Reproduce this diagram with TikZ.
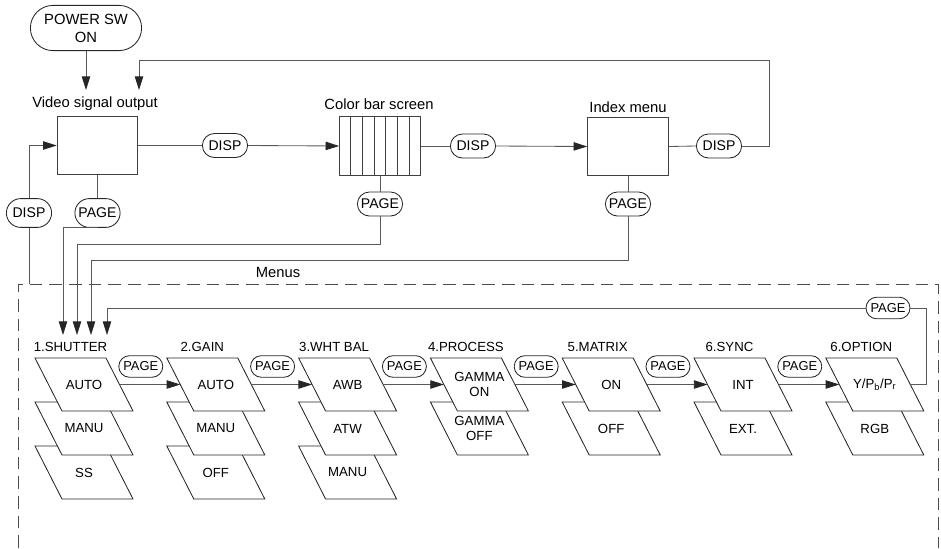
\documentclass[tikz,border=0pt]{standalone}
\usepackage{fontspec}
\setmainfont{Liberation Sans}
\usetikzlibrary{arrows.meta,positioning,shapes.misc,calc}

\tikzset{
  screen/.style={draw=black!75, line width=0.6pt, minimum width=2.02cm, minimum height=1.47cm, inner sep=0pt},
  keypill/.style={draw=black!85, line width=0.6pt, rounded rectangle, minimum width=1.2cm, minimum height=0.6cm, inner sep=1pt, font=\fontsize{10}{11}\selectfont},
  keysmall/.style={keypill, minimum width=1.17cm, minimum height=0.54cm, font=\fontsize{9.2}{11}\selectfont},
  choiceline/.style={draw=black!85, fill=white, line width=0.6pt},
  choicetext/.style={inner sep=0pt, align=center, font=\fontsize{9.4}{11}\selectfont},
  heading/.style={font=\fontsize{10.5}{12}\selectfont, inner sep=1pt},
  menutitle/.style={font=\fontsize{9.4}{11}\selectfont, inner sep=1pt},
  wire/.style={draw=black!65, line width=0.6pt},
  flow/.style={wire, -{Triangle[length=3.4mm,width=2.1mm,color=black!85]}},
  pics/choice/.style={code={
    \draw[choiceline] (-49,-26.5) -- (22,-26.5) -- (49,26.5) -- (-22,26.5) -- cycle;
    \node[choicetext] (-t) at (0,0) {#1};
    \coordinate (-l) at (-35.5,0);
    \coordinate (-r) at (35.5,0);
  }},
}

\begin{document}
\begin{tikzpicture}[x=0.025cm, y=-0.025cm]
  \useasboundingbox (0,0) rectangle (941,548);

  % Power and screens
  \node[keypill, minimum width=2.85cm, minimum height=1.13cm, align=center, font=\fontsize{10.5}{12.8}\selectfont] (power) at (86,28) {POWER SW\\ON};
  \node[screen] (vid) at (97.5,145.5) {};
  \node[heading] (vidt) at (95,104) {Video signal output};
  \node[screen] (bar) at (380,146) {};
  \node[heading] (bart) at (379,104) {Color bar screen};
  \node[screen] (idx) at (628,146.5) {};
  \node[heading] (idxt) at (628,107) {Index menu};
  \foreach \k in {1,...,6}
    \draw[draw=black!75, line width=0.6pt] ($(bar.north west)!\k/7!(bar.north east)$) -- ($(bar.south west)!\k/7!(bar.south east)$);

  % Keys round the screens
  \node[keypill] (disp1) at (225,145.5) {DISP};
  \node[keypill] (disp2) at (473,146) {DISP};
  \node[keypill] (disp3) at (719,146) {DISP};
  \node[keypill, minimum height=0.72cm] (disp0) at (29,213) {DISP};
  \node[keypill, minimum height=0.72cm] (page0) at (97.5,213) {PAGE};
  \node[keypill] (page1) at (380,204) {PAGE};
  \node[keypill] (page2) at (628,204) {PAGE};

  \coordinate (vidin1) at (86,90);
  \coordinate (vidin2) at (139,90);
  \coordinate (loop) at (769,60);
  \coordinate (frametop) at (18,284);
  \coordinate (in1) at (63,335);
  \coordinate (in2) at (77,335);
  \coordinate (in3) at (91,335);
  \coordinate (in4) at (107,335);

  \draw[flow] (power.south) -- (vidin1);
  \draw[wire] (vid.east) -- (disp1.west);
  \draw[flow] (disp1.east) -- (bar.west);
  \draw[wire] (bar.east) -- (disp2.west);
  \draw[flow] (disp2.east) -- (idx.west);
  \draw[wire] (idx.east) -- (disp3.west);
  \draw[flow] (disp3.east) -| (loop) -| (vidin2);
  \draw[flow] (disp0.north) |- (vid.west);
  \draw[wire] (disp0.south) -- (disp0.south |- frametop);
  \draw[wire] (vid.south) -- (page0.north);
  \draw[wire] (bar.south) -- (page1.north);
  \draw[wire] (idx.south) -- (page2.north);
  \draw[flow] (page0.south) -| (in1);
  \draw[flow] (page1.south) -- ++(0,28) -| (in2);
  \draw[flow] (page2.south) -- ++(0,44) -| (in3);

  % Menus frame
  \node[heading] (menus) at (278,272) {Menus};
  \draw[draw=black!70, line width=0.6pt, dash pattern=on 9pt off 5pt] (18,548) -- (frametop) -- (938,284) -- (938,548);

  % Menu titles
  \node[menutitle] (sht) at (70.5,347) {1.SHUTTER};
  \node[menutitle] (gat) at (202.3,347) {2.GAIN};
  \node[menutitle] (wbt) at (334.1,347) {3.WHT BAL};
  \node[menutitle] (prt) at (465.9,347) {4.PROCESS};
  \node[menutitle] (mxt) at (597.7,347) {5.MATRIX};
  \node[menutitle] (syt) at (729.5,347) {6.SYNC};
  \node[menutitle] (opt) at (861.3,347) {6.OPTION};

  % Menu choices, lowest first
  \pic (sh3) at (84,472.5) {choice=SS};
  \pic (sh2) at (84,428.5) {choice=MANU};
  \pic (sh1) at (84,384.5) {choice=AUTO};
  \pic (ga3) at (215.8,472.5) {choice=OFF};
  \pic (ga2) at (215.8,428.5) {choice=MANU};
  \pic (ga1) at (215.8,384.5) {choice=AUTO};
  \pic (wb3) at (347.6,472.5) {choice=MANU};
  \pic (wb2) at (347.6,428.5) {choice=ATW};
  \pic (wb1) at (347.6,384.5) {choice=AWB};
  \pic (pr2) at (479.4,428.5) {choice={GAMMA\\OFF}};
  \pic (pr1) at (479.4,384.5) {choice={GAMMA\\ON}};
  \pic (mx2) at (611.2,428.5) {choice=OFF};
  \pic (mx1) at (611.2,384.5) {choice=ON};
  \pic (sy2) at (743,428.5) {choice=EXT.};
  \pic (sy1) at (743,384.5) {choice=INT};
  \pic (op2) at (874.8,428.5) {choice=RGB};
  \pic (op1) at (874.8,384.5) {choice={Y/P\textsubscript{b}/P\textsubscript{r}}};

  % PAGE steps between menus
  \draw[flow] (sh1-r) -- node[keysmall, pos=0.35, above=1.7mm] (pg1) {PAGE} (ga1-l);
  \draw[flow] (ga1-r) -- node[keysmall, pos=0.35, above=1.7mm] (pg2) {PAGE} (wb1-l);
  \draw[flow] (wb1-r) -- node[keysmall, pos=0.35, above=1.7mm] (pg3) {PAGE} (pr1-l);
  \draw[flow] (pr1-r) -- node[keysmall, pos=0.35, above=1.7mm] (pg4) {PAGE} (mx1-l);
  \draw[flow] (mx1-r) -- node[keysmall, pos=0.35, above=1.7mm] (pg5) {PAGE} (sy1-l);
  \draw[flow] (sy1-r) -- node[keysmall, pos=0.35, above=1.7mm] (pg6) {PAGE} (op1-l);
  \node[keysmall] (pageR) at (888,308) {PAGE};
  \draw[wire] (op1-r) -- ++(16.5,0) |- (pageR.east);
  \draw[flow] (pageR.west) -| (in4);
\end{tikzpicture}
\end{document}
